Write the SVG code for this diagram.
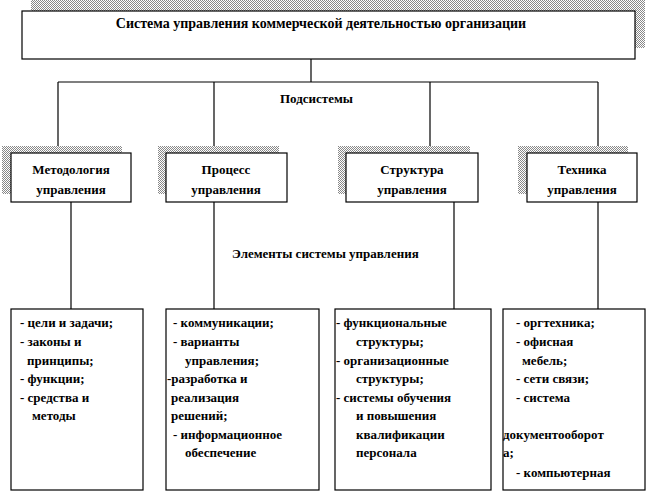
<svg xmlns="http://www.w3.org/2000/svg" width="649" height="493" viewBox="0 0 649 493">
<defs><pattern id="sh" width="2" height="2" patternUnits="userSpaceOnUse"><rect width="2" height="2" fill="#fff"/><rect width="1" height="1" fill="#888"/><rect x="1" y="1" width="1" height="1" fill="#888"/></pattern></defs>
<style>
.b{fill:#fff;stroke:#000;stroke-width:1.2}
.s{fill:url(#sh)}
text{font-family:"Liberation Serif","DejaVu Serif",serif;font-weight:bold;font-size:13px;fill:#000}
.c{text-anchor:middle}
line{stroke:#000;stroke-width:1.2}
</style>
<g id="connectors">
<line x1="311" y1="59" x2="311" y2="82"/>
<line x1="58" y1="82" x2="598" y2="82"/>
<line x1="58" y1="82" x2="58" y2="153"/>
<line x1="214" y1="82" x2="214" y2="153"/>
<line x1="430" y1="82" x2="430" y2="153"/>
<line x1="598" y1="82" x2="598" y2="153"/>
<line x1="71" y1="202" x2="71" y2="309"/>
<line x1="214" y1="202" x2="214" y2="309"/>
<line x1="454" y1="202" x2="454" y2="309"/>
<line x1="598" y1="202" x2="598" y2="309"/>
</g>
<g id="top"><rect class="s" x="31" y="0" width="614" height="48"/><rect class="b" x="22" y="11" width="613" height="48"/><text class="c" x="321" y="28" style="font-size:14px">Система  управления  коммерческой  деятельностью организации</text></g>
<text x="280" y="103">Подсистемы</text>
<text x="232" y="258">Элементы системы управления</text>
<g id="n1"><rect class="s" x="2" y="146" width="120" height="48"/><rect class="b" x="11" y="153" width="120" height="49"/><text class="c" x="71" y="174">Методология</text><text class="c" x="71" y="194">управления</text></g>
<g id="n2"><rect class="s" x="158" y="146" width="121" height="48"/><rect class="b" x="166" y="153" width="121" height="49"/><text class="c" x="226" y="174">Процесс</text><text class="c" x="226" y="194">управления</text></g>
<g id="n3"><rect class="s" x="338" y="146" width="132" height="48"/><rect class="b" x="346" y="153" width="132" height="49"/><text class="c" x="412" y="174">Структура</text><text class="c" x="412" y="194">управления</text></g>
<g id="n4"><rect class="s" x="518" y="146" width="110" height="48"/><rect class="b" x="527" y="153" width="110" height="49"/><text class="c" x="582" y="174">Техника</text><text class="c" x="582" y="194">управления</text></g>
<g id="e1"><rect class="b" x="11" y="309" width="132" height="181"/>
<text x="20" y="327">- цели и задачи;</text><text x="20" y="346">- законы и</text><text x="27" y="365">принципы;</text><text x="20" y="383">- функции;</text><text x="20" y="402">- средства и</text><text x="32" y="420">методы</text></g>
<g id="e2"><rect class="b" x="166" y="309" width="153" height="181"/>
<text x="173" y="327">- коммуникации;</text><text x="173" y="346">- варианты</text><text x="185" y="365">управления;</text><text x="167" y="383">-разработка и</text><text x="171" y="402">реализация</text><text x="171" y="420">решений;</text><text x="173" y="439">- информационное</text><text x="185" y="457">обеспечение</text></g>
<g id="e3"><rect class="b" x="335" y="309" width="156" height="181"/>
<text x="336" y="327">- функциональные</text><text x="356" y="346">структуры;</text><text x="336" y="365">- организационные</text><text x="356" y="383">структуры;</text><text x="336" y="402">- системы обучения</text><text x="356" y="420">и повышения</text><text x="356" y="439">квалификации</text><text x="356" y="457">персонала</text></g>
<g id="e4"><rect class="b" x="503" y="309" width="142" height="181"/>
<text x="516" y="327">- оргтехника;</text><text x="516" y="346">- офисная</text><text x="522" y="365">мебель;</text><text x="516" y="383">- сети связи;</text><text x="516" y="402">- система</text><text x="503" y="439">документооборот</text><text x="503" y="457">а;</text><text x="516" y="477">- компьютерная</text></g>
</svg>
